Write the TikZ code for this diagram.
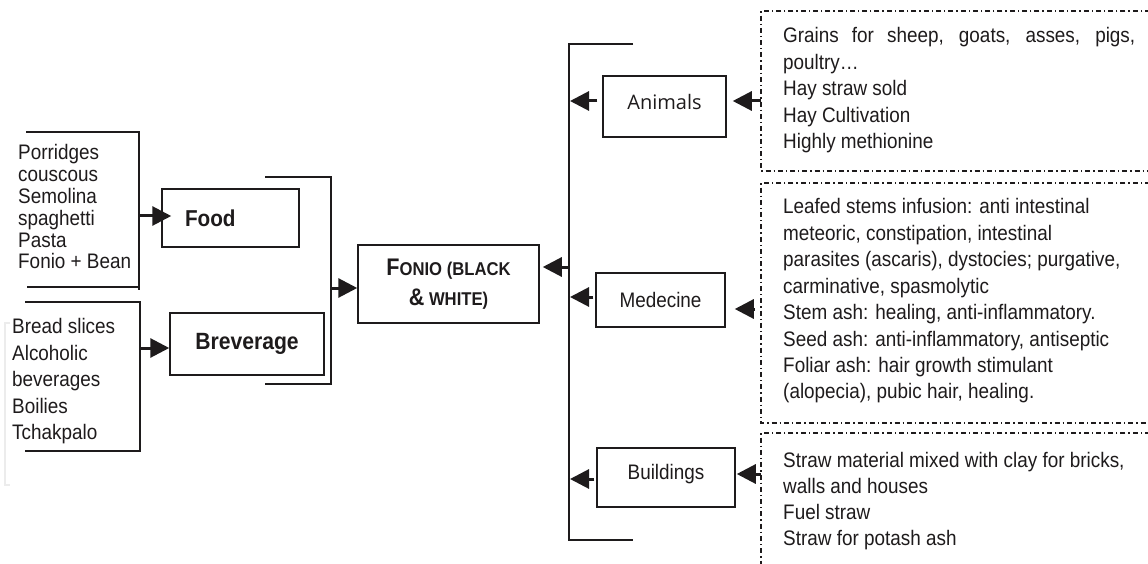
\documentclass[tikz,border=0pt]{standalone}
\usepackage{fontspec}
\setmainfont{Liberation Sans}[FakeStretch=0.9]
\newfontfamily\animfont{Open Sans}
\usetikzlibrary{arrows.meta}
\definecolor{ink}{HTML}{1E1B1C}
\newcommand\myfs[2]{\fontsize{#1pt}{#2pt}\selectfont}
\begin{document}
\begin{tikzpicture}[x=1pt,y=-1pt,
  every node/.style={inner sep=0pt, text=ink},
  box/.style={draw=ink, line width=1.5pt, inner sep=0pt},
  brk/.style={draw=ink, line width=2pt},
  arr/.style={draw=ink, line width=3pt, -{Triangle[length=19pt,width=19pt]}},
  dd/.style={draw=ink, line width=1.1pt, dash pattern=on 5pt off 3pt on 1.3pt off 3pt},
  list/.style={anchor=north west, align=left},
]
\useasboundingbox (0,0) rectangle (1148,564);
\fill[white] (0,0) rectangle (1148,564);

% faint trace at left
\draw[gray!15, line width=1.5pt] (10,323) -- (5,323) -- (5,485) -- (10,485);

% ---------- left lists ----------
\node[list, font=\myfs{21}{21.8}] (foodlist) at (18,144.5)
  {Porridges\\couscous\\Semolina\\spaghetti\\Pasta\\Fonio + Bean};
\node[list, font=\myfs{21}{26.5}] (bevlist) at (12,318.5)
  {Bread slices\\Alcoholic\\beverages\\Boilies\\Tchakpalo};

\draw[brk] (26,132) -- (139,132) -- (139,290);
\draw[brk] (27,287) -- (139,287);
\draw[brk] (25,302) -- (140,302) -- (140,451) -- (25,451);

% ---------- category boxes left ----------
\node[box, text width=91pt, align=left, inner xsep=23pt, minimum height=58pt,
      font=\bfseries\myfs{23}{27}] (food) at (230.5,218) {Food};
\node[box, minimum width=154pt, minimum height=62pt,
      font=\bfseries\myfs{23.5}{27}] (brev) at (247,344) {Breverage};

\coordinate (fb) at (139,216);
\coordinate (bb) at (140,348);
\draw[arr, shorten >=-10pt] (fb) -- (food.west |- fb);
\draw[arr] (bb) -- (brev.west |- bb);

% outer bracket
\draw[brk] (265,177) -- (331,177) -- (331,384) -- (265,384);

% ---------- central box ----------
\node[box, minimum width=181pt, minimum height=78pt, align=center,
      font=\bfseries\myfs{18.5}{30}] (fonio) at (448.5,284)
  {{\fontsize{24pt}{30pt}\selectfont F}ONIO (BLACK\\{\fontsize{24pt}{30pt}\selectfont\&} WHITE)};

\coordinate (ob) at (331,288);
\draw[arr] (ob) -- (fonio.west |- ob);

% right bracket
\draw[brk] (633,44) -- (569,44) -- (569,540) -- (633,540);
\coordinate (rbF) at (569,267);
\draw[arr, shorten >=3pt] (rbF) -- (fonio.east |- rbF);

% ---------- category boxes right ----------
\node[box, minimum width=123pt, minimum height=61pt, text depth=10pt,
      font=\animfont\myfs{20}{24}] (animals) at (664.5,106.5) {Animals};
\node[box, minimum width=129pt, minimum height=54pt,
      font=\myfs{21}{24}] (medecine) at (660.5,300) {Medecine};
\node[box, minimum width=138pt, minimum height=59pt, text depth=11pt,
      font=\myfs{21}{24}] (buildings) at (666,477.5) {Buildings\hspace{18pt}};

\coordinate (rbA) at (570,101);
\coordinate (rbM) at (570,297);
\coordinate (rbB) at (570,479);
\draw[arr, shorten <=5pt] (animals.west |- rbA) -- (rbA);
\draw[arr, shorten <=2pt] (medecine.west |- rbM) -- (rbM);
\draw[arr, shorten <=2pt] (buildings.west |- rbB) -- (rbB);

% ---------- dash-dot text boxes ----------
\draw[dd] (1150,11) -- (761,11) -- (761,171) -- (1150,171);
\draw[dd] (1150,183) -- (761,183) -- (761,423) -- (1150,423);
\draw[dd] (1150,433) -- (761,433) -- (761,566);

\node[list, font=\myfs{21}{26.5}] (animtxt) at (783,27.5)
  {\makebox[352pt][s]{Grains for sheep, goats, asses, pigs,}\\poultry…\\Hay straw sold\\Hay Cultivation\\Highly methionine};
\node[list, font=\myfs{21}{26.43}] (medtxt) at (783,198.5)
  {Leafed stems infusion: anti intestinal\\meteoric, constipation, intestinal\\parasites (ascaris), dystocies; purgative,\\carminative, spasmolytic\\Stem ash: healing, anti-inflammatory.\\Seed ash: anti-inflammatory, antiseptic\\Foliar ash: hair growth stimulant\\(alopecia), pubic hair, healing.};
\node[list, font=\myfs{21}{25.7}] (buildtxt) at (783,452.5)
  {Straw material mixed with clay for bricks,\\walls and houses\\Fuel straw\\Straw for potash ash};

\coordinate (dA) at (761,101);
\coordinate (dM) at (755,309);
\coordinate (dB) at (761,474);
\draw[arr, shorten >=6pt] (dA) -- (animals.east |- dA);
\draw[arr, shorten >=9pt] (dM) -- (medecine.east |- dM);
\draw[arr, shorten >=1pt] (dB) -- (buildings.east |- dB);
\end{tikzpicture}
\end{document}
